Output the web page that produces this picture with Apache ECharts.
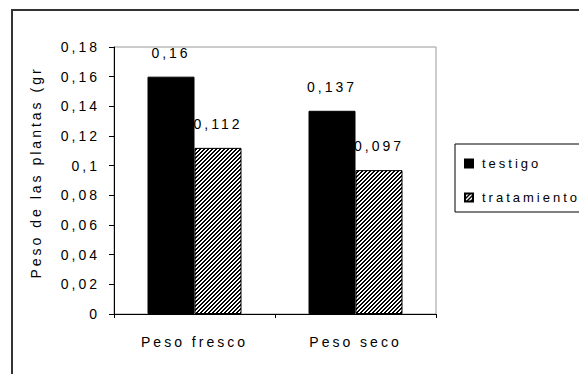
<!DOCTYPE html>
<html>
<head>
<meta charset="utf-8">
<script src="https://cdn.jsdelivr.net/npm/echarts@6/dist/echarts.min.js"></script>
<style>
  html, body { margin: 0; padding: 0; background: #fff; }
  #chart { width: 579px; height: 374px; }
  #chart text { letter-spacing: 3px; }
</style>
</head>
<body>
<div id="chart"></div>
<script>
const categories = ['Peso fresco', 'Peso seco'];
const seriesNames = ['testigo', 'tratamiento'];
const testigo = [0.16, 0.137];
const tratamiento = [0.112, 0.097];
const yAxisName = 'Peso de las plantas (gr';

function fmt(v) {
  return String(+Number(v).toFixed(3)).replace('.', ',');
}

// hatch pattern "////"
const pc = document.createElement('canvas');
pc.width = 4; pc.height = 4;
const pctx = pc.getContext('2d');
pctx.fillStyle = '#fff';
pctx.fillRect(0, 0, 4, 4);
pctx.fillStyle = '#000';
for (let x = 0; x < 4; x++) {
  for (let y = 0; y < 4; y++) {
    const m = (x + y) % 4;
    if (m === 0 || m === 1) pctx.fillRect(x, y, 1, 1);
  }
}

const FONT = 'Liberation Sans, Arial, sans-serif';
const FS = 14;

const chart = echarts.init(document.getElementById('chart'), null, { renderer: 'svg' });
chart.setOption({
  animation: false,
  backgroundColor: '#fff',
  textStyle: { fontFamily: FONT, fontSize: FS, color: '#000' },
  graphic: [{
    type: 'rect',
    silent: true,
    shape: { x: 12, y: 10, width: 620, height: 420 },
    style: { fill: 'none', stroke: '#333', lineWidth: 2 }
  }],
  grid: {
    left: 114, top: 47, right: 143, bottom: 60,
    show: true, borderColor: '#999', borderWidth: 1, backgroundColor: '#fff'
  },
  legend: {
    orient: 'vertical',
    left: 455, top: 144,
    padding: [11, 34, 6, 9],
    itemGap: 17,
    itemWidth: 8, itemHeight: 8,
    borderColor: '#000', borderWidth: 1,
    icon: 'rect',
    textStyle: { fontFamily: FONT, fontSize: 13, color: '#000', padding: [0, 0, 0, 4], lineHeight: 17 },
    data: seriesNames
  },
  xAxis: {
    type: 'category',
    data: categories,
    axisLine: { lineStyle: { color: '#000', width: 1 } },
    axisTick: { show: true, length: 4, lineStyle: { color: '#000' } },
    axisLabel: { color: '#000', fontFamily: FONT, fontSize: FS, margin: 21 },
    splitLine: { show: false }
  },
  yAxis: {
    type: 'value',
    min: 0, max: 0.18, interval: 0.02,
    name: yAxisName,
    nameLocation: 'middle',
    nameGap: 71,
    nameTextStyle: { color: '#000', fontFamily: FONT, fontSize: FS, padding: [0, 0, 0, 16] },
    axisLine: { show: true, lineStyle: { color: '#000', width: 1 } },
    axisTick: { show: true, length: 5, lineStyle: { color: '#000' } },
    axisLabel: { color: '#000', fontFamily: FONT, fontSize: FS, margin: 14, formatter: fmt },
    splitLine: { show: false }
  },
  series: [
    {
      name: seriesNames[0],
      type: 'bar',
      data: testigo,
      barWidth: 47,
      barGap: '0%',
      z: 3,
      itemStyle: { color: '#000', borderColor: '#000', borderWidth: 1 },
      label: { show: true, position: 'top', distance: 17, color: '#000', fontFamily: FONT, fontSize: FS, formatter: p => fmt(p.value) }
    },
    {
      name: seriesNames[1],
      type: 'bar',
      data: tratamiento,
      barWidth: 47,
      barGap: '0%',
      z: 2,
      itemStyle: { color: { image: pc, repeat: 'repeat' }, borderColor: '#000', borderWidth: 1 },
      label: { show: true, position: 'top', distance: 17, color: '#000', fontFamily: FONT, fontSize: FS, formatter: p => fmt(p.value) }
    }
  ]
});
</script>
</body>
</html>
